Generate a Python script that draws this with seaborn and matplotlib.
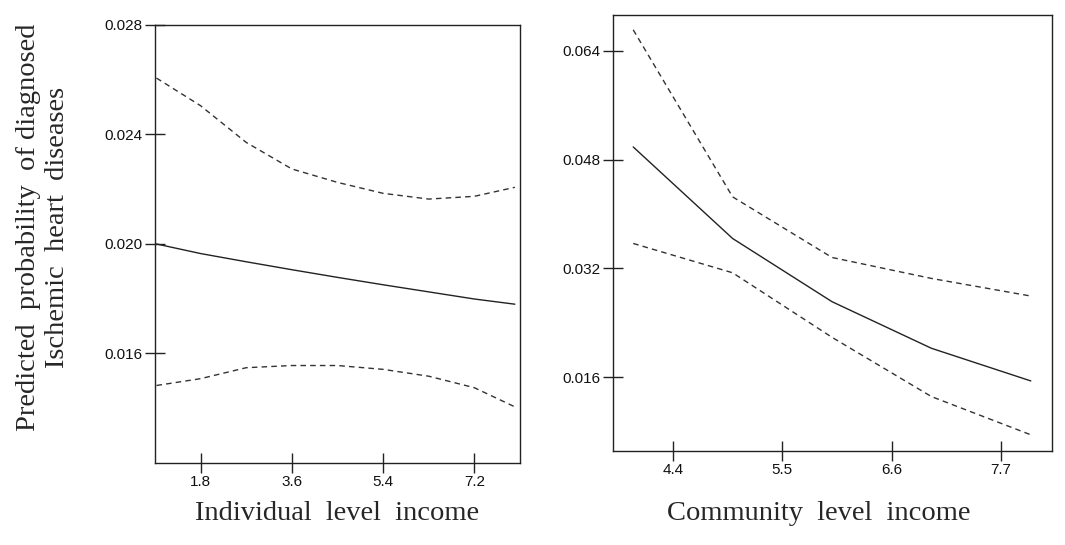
import numpy as np
import pandas as pd
import matplotlib
matplotlib.use("Agg")
import matplotlib.pyplot as plt
import seaborn as sns

# ---- data ----
ind_income = [0.93, 1.8, 2.7, 3.6, 4.5, 5.4, 6.3, 7.2, 8.0]
ind_pred = [0.02000, 0.01965, 0.01935, 0.01906, 0.01878, 0.01851, 0.01825, 0.01799, 0.01780]
ind_upper = [0.02606, 0.02505, 0.02371, 0.02274, 0.02225, 0.02185, 0.02164, 0.02174, 0.02207]
ind_lower = [0.01483, 0.01508, 0.01548, 0.01556, 0.01556, 0.01542, 0.01517, 0.01475, 0.01405]

com_income = [4.0, 5.0, 6.0, 7.0, 8.0]
com_pred = [0.04986, 0.03640, 0.02711, 0.02026, 0.01546]
com_upper = [0.06708, 0.04252, 0.03361, 0.03053, 0.02794]
com_lower = [0.03567, 0.03136, 0.02187, 0.01316, 0.00754]

ind_xticks = [1.8, 3.6, 5.4, 7.2]
ind_yticks = [0.016, 0.020, 0.024, 0.028]
com_xticks = [4.4, 5.5, 6.6, 7.7]
com_yticks = [0.016, 0.032, 0.048, 0.064]

sns.set_style("white")
plt.rcParams['font.family'] = ['Liberation Sans', 'DejaVu Sans']

fig = plt.figure(figsize=(10.65, 5.45), dpi=100)
ax1 = fig.add_axes([0.1455, 0.1505, 0.3427, 0.8037])
ax2 = fig.add_axes([0.5759, 0.1730, 0.4116, 0.8000])


def draw_panel(ax, x, pred, upper, lower):
    df = pd.DataFrame({'x': x, 'pred': pred, 'upper': upper, 'lower': lower})
    sns.lineplot(data=df, x='x', y='pred', ax=ax, color='#222222', linewidth=1.0)
    for col in ['upper', 'lower']:
        sns.lineplot(data=df, x='x', y=col, ax=ax, color='#333333', linewidth=1.0,
                     dashes=False, linestyle=(0, (4, 3)))
    for sp in ax.spines.values():
        sp.set_color('#222222')
        sp.set_linewidth(1.0)
    ax.tick_params(bottom=True, left=True, direction='inout', length=14, width=1.0,
                   color='#222222', labelsize=11, labelcolor='#111111', pad=2)
    ax.set_xlabel('')
    ax.set_ylabel('')


draw_panel(ax1, ind_income, ind_pred, ind_upper, ind_lower)
ax1.set_xlim(0.9, 8.1)
ax1.set_ylim(0.012, 0.028)
ax1.set_xticks(ind_xticks)
ax1.set_yticks(ind_yticks)
ax1.set_xticklabels([f'{v:.1f}' for v in ind_xticks])
ax1.set_yticklabels([f'{v:.3f}' for v in ind_yticks])

draw_panel(ax2, com_income, com_pred, com_upper, com_lower)
ax2.set_xlim(3.8, 8.21)
ax2.set_ylim(0.0052, 0.0693)
ax2.set_xticks(com_xticks)
ax2.set_yticks(com_yticks)
ax2.set_xticklabels([f'{v:.1f}' for v in com_xticks])
ax2.set_yticklabels([f'{v:.3f}' for v in com_yticks])

serif = ['Liberation Serif', 'DejaVu Serif']
fig.text(337 / 1065, 1 - 513 / 545, 'Individual  level  income', family=serif,
         fontsize=20.5, ha='center', va='center')
fig.text(819 / 1065, 1 - 513 / 545, 'Community  level  income', family=serif,
         fontsize=20.5, ha='center', va='center')
fig.text(43 / 1065, 1 - 227 / 545, 'Predicted  probability  of diagnosed\nIschemic  heart  diseases',
         family=serif, fontsize=20.5, ha='center', va='center', rotation=90,
         linespacing=1.25)

fig.savefig('out.png', dpi=100)
